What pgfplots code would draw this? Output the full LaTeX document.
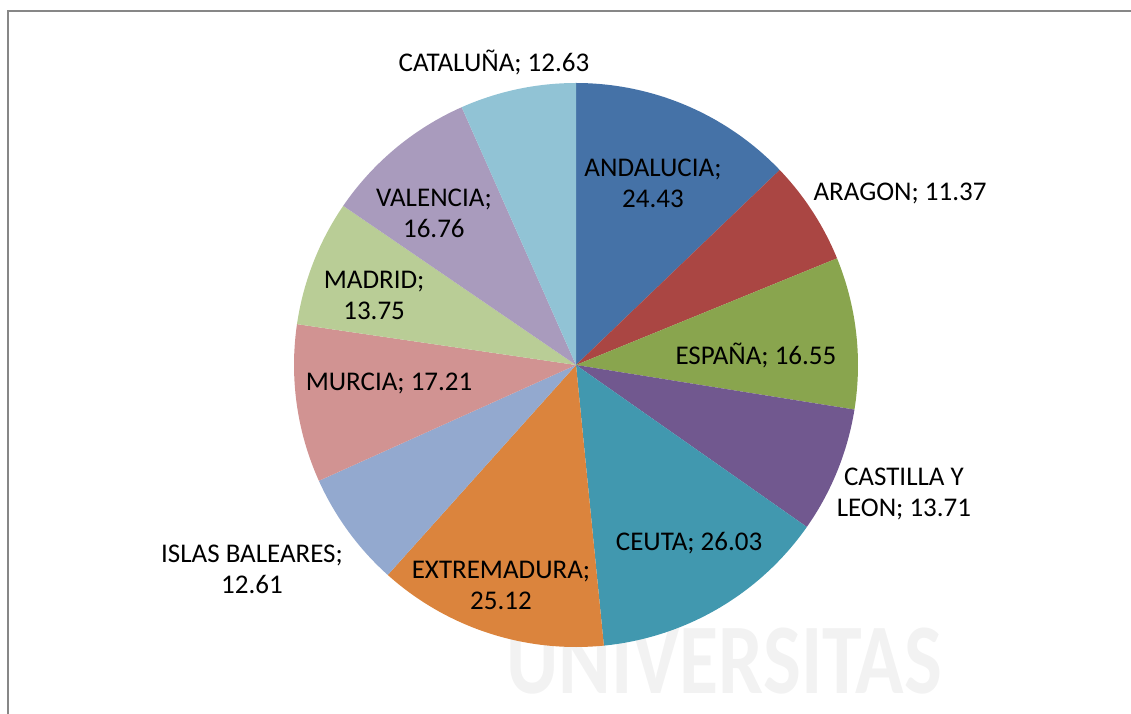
\documentclass[border=0pt]{standalone}
\usepackage{pgfplots}
\pgfplotsset{compat=1.18}
\usepackage{fontspec}
\setmainfont{Carlito}

\definecolor{cAnd}{HTML}{4572A7}
\definecolor{cAra}{HTML}{AA4643}
\definecolor{cEsp}{HTML}{89A54E}
\definecolor{cCas}{HTML}{71588F}
\definecolor{cCeu}{HTML}{4198AF}
\definecolor{cExt}{HTML}{DB843D}
\definecolor{cIsl}{HTML}{93A9CF}
\definecolor{cMur}{HTML}{D19392}
\definecolor{cMad}{HTML}{B9CD96}
\definecolor{cVal}{HTML}{A99BBD}
\definecolor{cCat}{HTML}{91C3D5}

\tikzset{lbl/.style={font=\fontsize{13.5}{15.5}\selectfont, align=center, text=black, inner sep=0pt}}

% sum of all values
\def\total{190.17}
\def\cum{90}
% one wedge, clockwise from the previous one
\newcommand\slice[2]{%
  \pgfmathsetmacro\sliceA{\cum}%
  \pgfmathsetmacro\sliceB{\cum-#1/\total*360}%
  \edef\doplot{\noexpand\addplot[fill=#2, draw=none, data cs=polar,
    domain=\sliceB:\sliceA, samples=60] (x,1) -- (axis cs:0,0) -- cycle;}%
  \doplot
  \global\let\cum\sliceB
}

\begin{document}
\begin{tikzpicture}
\useasboundingbox (0,0) rectangle (565.5pt,356.5pt);
\begin{scope}
  \clip (0,0) rectangle (565.5pt,356.5pt);
  \draw[line width=1pt, color=black!47] (3.75pt,-10pt) -- (3.75pt,351pt) -- (600pt,351pt);
  \node[text=black!5, font=\fontsize{50}{50}\selectfont\bfseries, xscale=0.8, inner sep=0pt]
    at (362pt,26pt) {UNIVERSITAS};
\end{scope}
\begin{axis}[
  at={(0,0)}, anchor=south west,
  scale only axis, width=565.5pt, height=356.5pt,
  xmin=-2.0426, xmax=1.9681, ymin=-1.2340, ymax=1.2943,
  hide axis, clip=false,
]
\slice{24.43}{cAnd}
\slice{11.37}{cAra}
\slice{16.55}{cEsp}
\slice{13.71}{cCas}
\slice{26.03}{cCeu}
\slice{25.12}{cExt}
\slice{12.61}{cIsl}
\slice{17.21}{cMur}
\slice{13.75}{cMad}
\slice{16.76}{cVal}
\slice{12.63}{cCat}

\node[lbl] at (axis cs:0.273,0.645) {ANDALUCIA;\\24.43};
\node[lbl] at (axis cs:1.149,0.610) {ARAGON; 11.37};
\node[lbl] at (axis cs:0.638,0.035) {ESPAÑA; 16.55};
\node[lbl] at (axis cs:1.163,-0.457) {CASTILLA Y\\LEON; 13.71};
\node[lbl] at (axis cs:0.401,-0.631) {CEUTA; 26.03};
\node[lbl] at (axis cs:-0.266,-0.780) {EXTREMADURA;\\25.12};
\node[lbl] at (axis cs:-1.149,-0.723) {ISLAS BALEARES;\\12.61};
\node[lbl] at (axis cs:-0.663,-0.064) {MURCIA; 17.21};
\node[lbl] at (axis cs:-0.716,0.248) {MADRID;\\13.75};
\node[lbl] at (axis cs:-0.504,0.539) {VALENCIA;\\16.76};
\node[lbl] at (axis cs:-0.291,1.074) {CATALUÑA; 12.63};
\end{axis}
\end{tikzpicture}
\end{document}
